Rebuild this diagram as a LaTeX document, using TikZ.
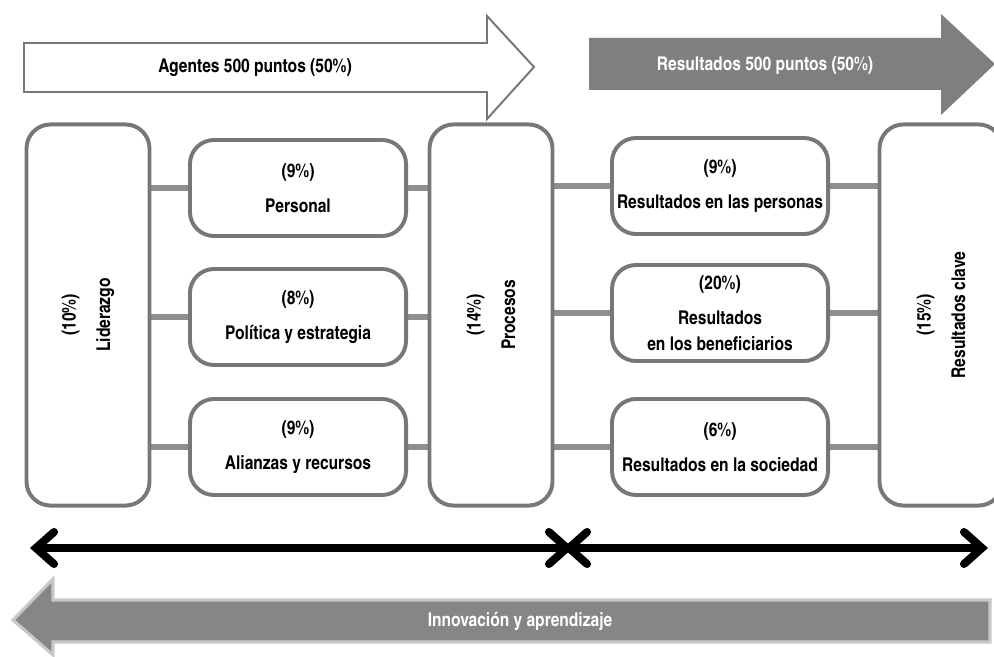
\documentclass[tikz,border=0pt]{standalone}
\usepackage{fontspec}
\setmainfont{texgyreheroscn}[Extension=.otf,UprightFont=*-regular,BoldFont=*-bold]
\usetikzlibrary{arrows.meta,backgrounds}
\definecolor{boxgray}{HTML}{777777}
\definecolor{linkgray}{HTML}{8F8F8F}
\definecolor{arrowgray}{HTML}{7F7F7F}
\definecolor{lowgray}{HTML}{868686}
\definecolor{rimgray}{HTML}{C8C8C8}

\begin{document}
\begin{tikzpicture}[x=0.025cm,y=-0.025cm,>={Straight Barb[length=4.5mm,width=8mm,line cap=round]},
  font=\bfseries\fontsize{13.5}{18.5}\selectfont,
  main box/.style={draw=boxgray,line width=2.8pt,fill=white,rounded corners=0.6cm,
    align=center,inner sep=0pt,minimum width=5.4cm,minimum height=2.4cm},
  side box/.style={main box,rotate=90,minimum width=9.525cm,minimum height=3.075cm},
  link/.style={draw=linkgray,line width=4.3pt},
  arrow text/.style={font=\bfseries\fontsize{13.5}{16}\selectfont}]

 \useasboundingbox (0,0) rectangle (994,657);

 \draw[draw=boxgray,line width=1.4pt,fill=white] (24,43) -- (487,43) -- (487,16) -- (534,67)
   -- (487,119) -- (487,92) -- (24,92) -- cycle;
 \fill[arrowgray] (589,38) -- (941,38) -- (941,14) -- (995,64) -- (941,115) -- (941,90)
   -- (589,90) -- cycle;
 \node[arrow text] (agentes) at (255,68) {Agentes 500 puntos (50\%)};
 \node[arrow text,white] (result) at (765,65) {Resultados 500 puntos (50\%)};

 \node[side box] (lid) at (88,315) {(10\%)\\[6pt]Liderazgo};
 \node[main box] (pers) at (298,188) {(9\%)\\[6pt]Personal};
 \node[main box] (pol) at (298,317) {(8\%)\\[6pt]Política y estrategia};
 \node[main box] (ali) at (298,447) {(9\%)\\[6pt]Alianzas y recursos};
 \node[side box] (proc) at (491,315) {(14\%)\\[6pt]Procesos};
 \node[main box] (rper) at (720,186) {(9\%)\\[6pt]Resultados en las personas};
 \node[main box] (rben) at (720,313) {(20\%)\\[6pt]Resultados\\en los beneficiarios};
 \node[main box] (rsoc) at (720,447) {(6\%)\\[6pt]Resultados en la sociedad};
 \node[side box] (clave) at (941,315) {(15\%)\\[6pt]Resultados clave};

 \begin{scope}[on background layer]
 \path[link]
    (lid |- pers)	edge (pers)
    (lid |- pol)	edge (pol)
    (lid |- ali)	edge (ali)
    (proc |- pers)	edge (pers)
    (proc |- pol)	edge (pol)
    (proc |- ali)	edge (ali)
    (proc |- rper)	edge (rper)
    (proc |- rben)	edge (rben)
    (proc |- rsoc)	edge (rsoc)
    (clave |- rper)	edge (rper)
    (clave |- rben)	edge (rben)
    (clave |- rsoc)	edge (rsoc);
 \end{scope}

 \coordinate (left end) at (30,548);
 \coordinate (cross left) at (563,548);
 \coordinate (cross right) at (573,548);
 \coordinate (right end) at (988,548);
 \draw[<->,line width=5.7pt] (left end) -- (cross right);
 \draw[<->,line width=5.7pt] (cross left) -- (right end);

 \draw[draw=rimgray,line width=2.2pt,fill=lowgray] (990,600) -- (53,600) -- (53,579) -- (13,620)
   -- (53,655) -- (53,642) -- (990,642) -- cycle;
 \node[arrow text,white] (innov) at (520,621) {Innovación y aprendizaje};

\end{tikzpicture}
\end{document}
